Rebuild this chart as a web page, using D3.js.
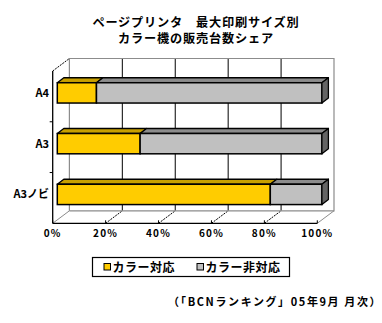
<!DOCTYPE html>
<html>
<head>
<meta charset="utf-8">
<script src="https://cdn.jsdelivr.net/npm/d3@7"></script>
<style>
  body { margin: 0; background: #fff; }
  svg { display: block; }
  text { font-family: "Noto Sans CJK JP", "Noto Sans", sans-serif; font-weight: bold; fill: #000; }
</style>
</head>
<body>
<div id="chart"></div>
<script>
// data
const categories = ["A4", "A3", "A3ノビ"];
const colorShare = [14.8, 31.3, 80.5];     // カラー対応
const monoShare = [85.2, 68.7, 19.5];      // カラー非対応
const seriesNames = ["カラー対応", "カラー非対応"];
const xTicks = [0, 20, 40, 60, 80, 100];
const titleLines = ["ページプリンタ　最大印刷サイズ別", "カラー機の販売台数シェア"];
const sourceNote = "（「BCNランキング」05年9月 月次）";

const W = 382, H = 323;
const front = { left: 52.7, right: 317.3, top: 71, bottom: 223.3 };
const depth = { dx: 16.7, dy: -12.5 };         // wall depth
const barOff = { dx: 4.6, dy: -3.5 };          // bar front face offset
const barDepth = { dx: 6.5, dy: -5 };
const colors = {
  yellow: "#ffcc00", yellowTop: "#c8a000",
  gray: "#c0c0c0", grayTop: "#8c8c8c", graySide: "#646464",
  wall: "#8c8c8c"
};

const svg = d3.select("#chart").append("svg")
  .attr("width", W).attr("height", H);

// title
svg.append("g").selectAll("text")
  .data(titleLines).enter().append("text")
  .attr("x", 196).attr("y", (d, i) => 26.5 + i * 16.5)
  .attr("text-anchor", "middle")
  .attr("font-size", 12.2)
  .attr("letter-spacing", 0.8)
  .text(d => d);

const x = d3.scaleLinear().domain([0, 100]).range([front.left, front.right]);
const y = d3.scaleBand().domain(categories).range([front.top, front.bottom]).paddingInner(0);

const line = d3.line();

// back wall + floor outline
const walls = svg.append("g");
const bx0 = front.left + depth.dx, bx1 = front.right + depth.dx;
const by0 = front.top + depth.dy, by1 = front.bottom + depth.dy;

// back wall gridlines
walls.selectAll("line.grid")
  .data(xTicks.slice(1, -1)).enter().append("line")
  .attr("x1", d => x(d) + depth.dx).attr("x2", d => x(d) + depth.dx)
  .attr("y1", by0).attr("y2", by1)
  .attr("stroke", "#000").attr("stroke-width", 1);

// floor diagonals
walls.selectAll("line.fdiag")
  .data(xTicks).enter().append("line")
  .attr("x1", d => x(d)).attr("y1", front.bottom)
  .attr("x2", d => x(d) + depth.dx).attr("y2", by1)
  .attr("stroke", (d, i) => (i === 0 || i === xTicks.length - 1) ? colors.wall : "#000")
  .attr("stroke-width", 1)
  .attr("stroke-dasharray", (d, i) => (i === 0 || i === xTicks.length - 1) ? null : "2,1");

walls.append("path")
  .attr("d", line([[bx0, by1], [bx0, by0], [bx1, by0], [bx1, by1], [bx0, by1]]))
  .attr("fill", "none").attr("stroke", colors.wall).attr("stroke-width", 1.2);

// left wall top diagonal
walls.append("line")
  .attr("x1", front.left).attr("y1", front.top)
  .attr("x2", bx0).attr("y2", by0)
  .attr("stroke", "#000").attr("stroke-dasharray", "2,1");

// bars
const rows = categories.map((c, i) => ({ cat: c, segs: [
  { s: 0, e: colorShare[i], fill: colors.yellow, top: colors.yellowTop },
  { s: colorShare[i], e: colorShare[i] + monoShare[i], fill: colors.gray, top: colors.grayTop }
]}));

const bh = y.bandwidth() * 0.4;
const bars = svg.append("g").selectAll("g").data(rows).enter().append("g");

bars.each(function (row) {
  const g = d3.select(this);
  const y0 = y(row.cat) + y.bandwidth() / 2 - bh / 2 + barOff.dy;
  const y1 = y0 + bh;
  row.segs.forEach((sg, k) => {
    const x0 = x(sg.s) + barOff.dx, x1 = x(sg.e) + barOff.dx;
    g.append("path")
      .attr("d", line([[x0, y0], [x1, y0], [x1 + barDepth.dx, y0 + barDepth.dy], [x0 + barDepth.dx, y0 + barDepth.dy]]) + "Z")
      .attr("fill", sg.top).attr("stroke", "#000").attr("stroke-width", 1.3).attr("stroke-linejoin", "round");
    g.append("rect")
      .attr("x", x0).attr("y", y0).attr("width", x1 - x0).attr("height", bh)
      .attr("fill", sg.fill).attr("stroke", "#000").attr("stroke-width", 1.5);
    if (k === row.segs.length - 1) {
      g.append("path")
        .attr("d", line([[x1, y0], [x1 + barDepth.dx, y0 + barDepth.dy], [x1 + barDepth.dx, y1 + barDepth.dy], [x1, y1]]) + "Z")
        .attr("fill", colors.graySide).attr("stroke", "#000").attr("stroke-width", 1.3).attr("stroke-linejoin", "round");
    }
  });
});

// front axes
const axes = svg.append("g");
axes.append("line")
  .attr("x1", front.left).attr("x2", front.left)
  .attr("y1", front.top).attr("y2", front.bottom)
  .attr("stroke", "#000").attr("stroke-width", 1.3);
axes.append("line")
  .attr("x1", front.left).attr("x2", front.right)
  .attr("y1", front.bottom).attr("y2", front.bottom)
  .attr("stroke", "#000").attr("stroke-width", 1.3);

// category boundary ticks
axes.selectAll("line.ytick")
  .data(categories.slice(1)).enter().append("line")
  .attr("x1", front.left - 3).attr("x2", front.left)
  .attr("y1", d => y(d)).attr("y2", d => y(d))
  .attr("stroke", "#000");

// x ticks
axes.selectAll("line.xtick")
  .data(xTicks).enter().append("line")
  .attr("x1", d => x(d)).attr("x2", d => x(d))
  .attr("y1", front.bottom).attr("y2", front.bottom - 3)
  .attr("stroke", "#000");

axes.selectAll("text.xl")
  .data(xTicks).enter().append("text")
  .attr("x", d => x(d)).attr("y", 237)
  .attr("text-anchor", "middle")
  .attr("font-size", 10)
  .attr("letter-spacing", 1.2)
  .text(d => d + "%");

axes.selectAll("text.yl")
  .data(categories).enter().append("text")
  .attr("x", 49).attr("y", d => y(d) + y.bandwidth() / 2 - 3.5 + 4)
  .attr("text-anchor", "end")
  .attr("font-size", 11)
  .text(d => d);

// legend
const legend = svg.append("g");
legend.append("rect")
  .attr("x", 92.5).attr("y", 257.5).attr("width", 197).attr("height", 19)
  .attr("fill", "#fff").attr("stroke", "#000").attr("stroke-width", 1.2);
const legendItems = legend.selectAll("g").data(seriesNames).enter().append("g")
  .attr("transform", (d, i) => `translate(${i === 0 ? 104 : 197},0)`);
legendItems.append("rect")
  .attr("x", 0).attr("y", 263.5).attr("width", 6.5).attr("height", 6.5)
  .attr("fill", (d, i) => i === 0 ? colors.yellow : colors.gray)
  .attr("stroke", "#000").attr("stroke-width", 1);
legendItems.append("text")
  .attr("x", 8.5).attr("y", 271.5)
  .attr("font-size", 12)
  .attr("letter-spacing", 0.5)
  .text(d => d);

// source
svg.append("text")
  .attr("x", 168).attr("y", 306)
  .attr("font-size", 11)
  .attr("letter-spacing", 1.6)
  .text(sourceNote);
</script>
</body>
</html>
